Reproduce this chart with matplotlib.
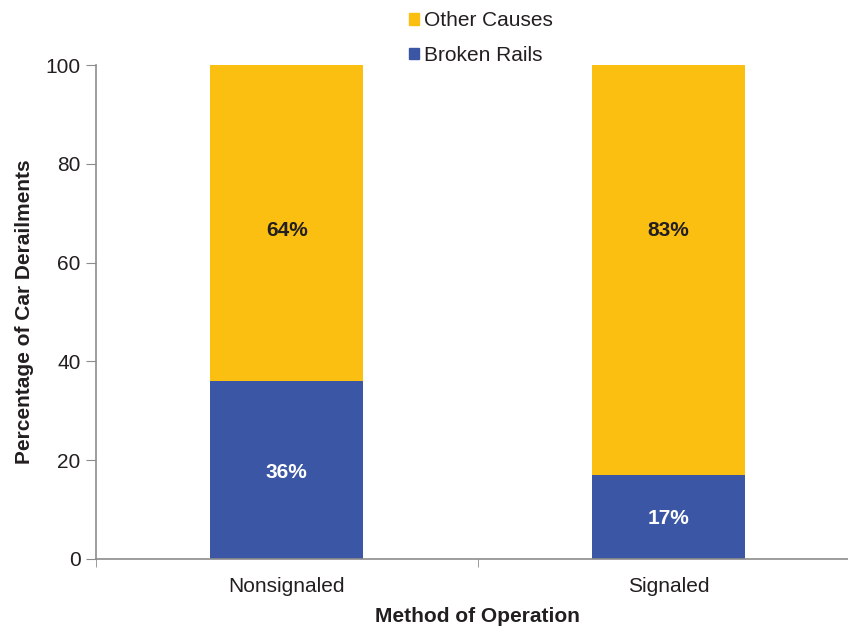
import matplotlib.pyplot as plt
from matplotlib.patches import Patch

plt.rcParams['font.family'] = ['Liberation Sans', 'DejaVu Sans']

methods = ["Nonsignaled", "Signaled"]
broken_rails = [36, 17]
other_causes = [64, 83]

blue = "#3A56A5"
yellow = "#FBBF12"
axis_gray = "#8C8C8C"
text_col = "#231F20"
fs = 15

fig = plt.figure(figsize=(8.48, 6.27), dpi=100)
ax = fig.add_axes([0.1132, 0.1085, 0.9, 0.7878])

x = range(len(methods))
ax.bar(x, broken_rails, width=0.4, color=blue)
ax.bar(x, other_causes, width=0.4, bottom=broken_rails, color=yellow)

# value labels: blue segment centred, yellow labels on a common line
for i in x:
    ax.text(i, broken_rails[i] / 2, f"{broken_rails[i]}%", ha="center", va="center_baseline",
            color="white", fontsize=fs, fontweight="bold")
    ax.text(i, 67, f"{other_causes[i]}%", ha="center", va="center_baseline",
            color=text_col, fontsize=fs, fontweight="bold")

ax.set_xlim(-0.5, 1.5)
ax.set_ylim(0, 100)
ax.set_yticks([0, 20, 40, 60, 80, 100])
ax.set_xticks([0, 1])
ax.set_xticklabels(methods)
ax.set_xticks([-0.5, 0.5, 1.5], minor=True)
ax.tick_params(axis="x", which="major", length=0, pad=13, labelsize=fs, labelcolor=text_col)
ax.tick_params(axis="x", which="minor", length=6, color=axis_gray)
ax.tick_params(axis="y", length=7, color=axis_gray, labelsize=fs, labelcolor=text_col, pad=4)

for side in ["top", "right"]:
    ax.spines[side].set_visible(False)
for side in ["left", "bottom"]:
    ax.spines[side].set_color(axis_gray)
    ax.spines[side].set_linewidth(1.2)

ax.set_xlabel("Method of Operation", fontsize=fs, fontweight="bold", color=text_col, labelpad=8)
ax.set_ylabel("Percentage of Car Derailments", fontsize=fs, fontweight="bold", color=text_col, labelpad=8)

handles = [Patch(color=yellow, label="Other Causes"), Patch(color=blue, label="Broken Rails")]
fig.legend(handles=handles, loc="upper left", bbox_to_anchor=(0.46, 1.012), frameon=False,
           fontsize=fs, handlelength=0.5, handleheight=0.5, handletextpad=0.25,
           labelspacing=0.75, labelcolor=text_col)

fig.savefig("out.png", dpi=100)
